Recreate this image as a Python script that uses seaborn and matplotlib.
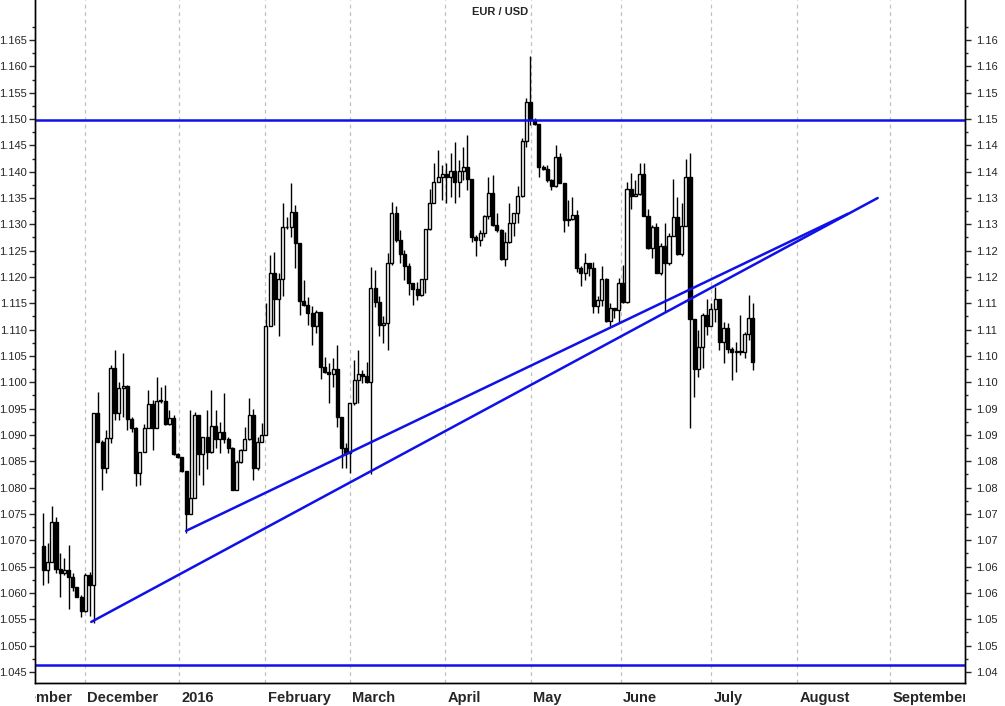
import math

import numpy as np
import matplotlib
matplotlib.use("Agg")
import matplotlib.pyplot as plt
from matplotlib.transforms import Bbox, TransformedBbox
import seaborn as sns

# daily EUR/USD candles, mid Nov 2015 .. mid Jul 2016
first_open = 1.0689
closes = [
    1.0643, 1.0659, 1.0735, 1.0645, 1.0637, 1.0643, 1.0630, 1.0612, 1.0593, 1.0566,
    1.0634, 1.0615, 1.0941, 1.0887, 1.0838, 1.0895, 1.1028, 1.0942, 1.0990, 1.0993,
    1.0931, 1.0914, 1.0827, 1.0868, 1.0914, 1.0958, 1.0913, 1.0965, 1.0964, 1.0921,
    1.0932, 1.0863, 1.0859, 1.0832, 1.0750, 1.0780, 1.0937, 1.0863, 1.0897, 1.0868,
    1.0917,
    1.0892, 1.0906, 1.0892, 1.0875, 1.0795, 1.0849, 1.0871, 1.0893, 1.0938, 1.0837,
    1.0887, 1.0900, 1.1106, 1.1208, 1.1159, 1.1197, 1.1294, 1.1295, 1.1324, 1.1264,
    1.1155, 1.1147, 1.1131, 1.1106, 1.1134, 1.1030, 1.1020, 1.1016, 1.1025, 1.0935,
    1.0875, 1.0865, 1.0960, 1.1004, 1.1015, 1.1012, 1.1000, 1.1180, 1.1153, 1.1108,
    1.1112, 1.1226, 1.1321, 1.1270,
    1.1244, 1.1221, 1.1188, 1.1177, 1.1166, 1.1197, 1.1292, 1.1340, 1.1381, 1.1390,
    1.1395, 1.1389, 1.1402, 1.1380, 1.1402, 1.1409, 1.1387, 1.1276, 1.1271, 1.1284,
    1.1315, 1.1359, 1.1299, 1.1290, 1.1235, 1.1267, 1.1302, 1.1322, 1.1354, 1.1459,
    1.1533, 1.1499, 1.1490, 1.1408, 1.1406, 1.1385, 1.1373, 1.1428, 1.1379, 1.1309,
    1.1311, 1.1317, 1.1218, 1.1207,
    1.1226, 1.1218, 1.1144, 1.1156, 1.1196, 1.1117, 1.1141, 1.1138, 1.1188, 1.1153,
    1.1368, 1.1354, 1.1357, 1.1396, 1.1316, 1.1255, 1.1294, 1.1208, 1.1259, 1.1227,
    1.1277, 1.1314, 1.1244, 1.1297, 1.1389, 1.1120, 1.1025, 1.1068, 1.1128, 1.1107,
    1.1139, 1.1158, 1.1077, 1.1103, 1.1063, 1.1057, 1.1060, 1.1058, 1.1092, 1.1122,
    1.1038,
]
highs = [
    1.0751, 1.0694, 1.0765, 1.0745, 1.0675, 1.0666, 1.0691, 1.0637, 1.0612, 1.0596,
    1.0637, 1.0640, 1.0941, 1.0982, 1.0890, 1.0909, 1.1033, 1.1061, 1.1001, 1.1055,
    1.0995, 1.0935, 1.0916, 1.0868, 1.0920, 1.0985, 1.0966, 1.1011, 1.0992, 1.0995,
    1.0947, 1.0938, 1.0865, 1.0859, 1.0830, 1.0947, 1.0944, 1.0925, 1.0897, 1.0947,
    1.0985,
    1.0947, 1.0925, 1.0979, 1.0897, 1.0878, 1.0852, 1.0874, 1.0916, 1.0970, 1.0950,
    1.0897, 1.0922, 1.1150, 1.1242, 1.1248, 1.1207, 1.1340, 1.1314, 1.1379, 1.1337,
    1.1253, 1.1194, 1.1162, 1.1144, 1.1137, 1.1131, 1.1049, 1.1036, 1.1046, 1.1071,
    1.0931, 1.0884, 1.0960, 1.1042, 1.1061, 1.1023, 1.1039, 1.1219, 1.1213, 1.1163,
    1.1125, 1.1245, 1.1343, 1.1334,
    1.1289, 1.1251, 1.1226, 1.1188, 1.1191, 1.1197, 1.1292, 1.1368, 1.1416, 1.1441,
    1.1413, 1.1416, 1.1435, 1.1457, 1.1422, 1.1447, 1.1470, 1.1387, 1.1280, 1.1289,
    1.1318, 1.1390, 1.1394, 1.1321, 1.1292, 1.1286, 1.1340, 1.1315, 1.1372, 1.1463,
    1.1539, 1.1620, 1.1501, 1.1489, 1.1413, 1.1413, 1.1387, 1.1450, 1.1435, 1.1378,
    1.1346, 1.1352, 1.1327, 1.1220,
    1.1245, 1.1226, 1.1229, 1.1163, 1.1220, 1.1198, 1.1150, 1.1141, 1.1198, 1.1223,
    1.1381, 1.1397, 1.1384, 1.1416, 1.1416, 1.1330, 1.1299, 1.1302, 1.1264, 1.1302,
    1.1283, 1.1387, 1.1352, 1.1340, 1.1425, 1.1435, 1.1087, 1.1099, 1.1131, 1.1159,
    1.1150, 1.1181, 1.1156, 1.1115, 1.1112, 1.1068, 1.1077, 1.1128, 1.1096, 1.1166,
    1.1150,
]
lows = [
    1.0615, 1.0618, 1.0659, 1.0637, 1.0593, 1.0634, 1.0569, 1.0603, 1.0593, 1.0555,
    1.0564, 1.0556, 1.0542, 1.0887, 1.0795, 1.0827, 1.0884, 1.0928, 1.0928, 1.0935,
    1.0909, 1.0906, 1.0803, 1.0805, 1.0868, 1.0913, 1.0871, 1.0914, 1.0960, 1.0919,
    1.0919, 1.0862, 1.0857, 1.0830, 1.0713, 1.0750, 1.0780, 1.0824, 1.0805, 1.0836,
    1.0866,
    1.0875, 1.0865, 1.0884, 1.0865, 1.0795, 1.0795, 1.0846, 1.0871, 1.0890, 1.0815,
    1.0833, 1.0887, 1.0900, 1.1106, 1.1109, 1.1087, 1.1164, 1.1292, 1.1276, 1.1217,
    1.1128, 1.1145, 1.1109, 1.1071, 1.1093, 1.1006, 1.1017, 1.0960, 1.0992, 1.0916,
    1.0837, 1.0837, 1.0827, 1.0957, 1.0960, 1.0998, 1.0998, 1.0826, 1.1143, 1.1087,
    1.1074, 1.1061, 1.1223, 1.1267,
    1.1226, 1.1194, 1.1166, 1.1147, 1.1156, 1.1163, 1.1169, 1.1289, 1.1340, 1.1381,
    1.1346, 1.1340, 1.1352, 1.1340, 1.1352, 1.1384, 1.1365, 1.1267, 1.1239, 1.1258,
    1.1276, 1.1311, 1.1296, 1.1286, 1.1232, 1.1220, 1.1264, 1.1277, 1.1302, 1.1352,
    1.1447, 1.1489, 1.1489, 1.1390, 1.1403, 1.1381, 1.1365, 1.1371, 1.1378, 1.1286,
    1.1296, 1.1308, 1.1210, 1.1182,
    1.1194, 1.1201, 1.1131, 1.1131, 1.1144, 1.1115, 1.1106, 1.1122, 1.1115, 1.1150,
    1.1150, 1.1330, 1.1356, 1.1356, 1.1315, 1.1254, 1.1236, 1.1207, 1.1204, 1.1134,
    1.1223, 1.1286, 1.1242, 1.1239, 1.1296, 1.0913, 1.0973, 1.1011, 1.1027, 1.1090,
    1.1106, 1.1115, 1.1061, 1.1036, 1.1055, 1.1004, 1.1020, 1.1052, 1.1046, 1.1081,
    1.1024,
]

# trend lines (day index, price) and horizontal levels
trend_a_x = [34.0, 191.6]
trend_a_y = [1.0718, 1.1320]
trend_b_x = [11.4, 198.7]
trend_b_y = [1.0545, 1.1350]
levels = [1.1499, 1.0463]

month_names = ["November", "December", "2016", "February", "March", "April",
               "May", "June", "July", "August", "September"]
month_pos = [-11.0, 9.9, 32.3, 52.8, 73.0, 95.6, 116.1, 137.5, 159.0, 179.5, 201.7]

yticks = [round(1.045 + 0.005 * i, 3) for i in range(25)]

sns.set_style("white")
plt.rcParams["font.family"] = ["Liberation Sans", "DejaVu Sans"]

fig = plt.figure(figsize=(10.05, 7.06), dpi=100)
ax = fig.add_axes([35 / 1005, 23 / 706, 930 / 1005, 683 / 706])

x = np.arange(len(closes))
opens = [first_open] + closes[:-1]
o = np.array(opens)
c = np.array(closes)
up = c >= o

ax.vlines(x, lows, highs, color="black", lw=1, zorder=2)
body = np.maximum(np.abs(c - o), 0.00015)
ax.bar(x[up], body[up], bottom=o[up], width=0.72, color="white",
       edgecolor="black", lw=1, zorder=3)
ax.bar(x[~up], body[~up], bottom=c[~up], width=0.72, color="black",
       edgecolor="black", lw=1, zorder=3)

sns.lineplot(x=trend_a_x, y=trend_a_y, ax=ax, color="#1010e8", lw=1.8, zorder=4)
sns.lineplot(x=trend_b_x, y=trend_b_y, ax=ax, color="#1010e8", lw=1.8, zorder=4)
for lv in levels:
    ax.axhline(lv, color="#1010e8", lw=1.8, zorder=4)

for p in month_pos:
    ax.axvline(p, color="#c0c0c0", lw=0.9, ls=(0, (3, 3)), zorder=1)

ax.set_xlim(-2, 219.5)
ax.set_ylim(1.0429, 1.1726)
ax.set_xticks([])
ax.set_yticks(yticks)
ax.set_yticklabels([f"{v:.3f}" for v in yticks], fontsize=8)
ax.set_yticks([v + 0.0025 for v in yticks], minor=True)
ax.tick_params(axis="y", which="major", length=4, width=1, direction="out",
               left=True, pad=2)
ax.tick_params(axis="y", which="minor", length=2, width=1, direction="out", left=True)

ax2 = ax.twinx()
ax2.set_ylim(ax.get_ylim())
ax2.set_yticks(yticks)
ax2.set_yticklabels([f"{math.floor(v * 100 + 1e-6) / 100:.2f}" for v in yticks],
                    fontsize=8)
ax2.set_yticks([v + 0.0025 for v in yticks], minor=True)
ax2.tick_params(axis="y", which="major", length=4, width=1, direction="out",
                right=True, pad=4)
ax2.tick_params(axis="y", which="minor", length=2, width=1, direction="out", right=True)

for a in (ax, ax2):
    for side in ("left", "right", "bottom"):
        a.spines[side].set_color("black")
        a.spines[side].set_linewidth(1)
    a.spines["top"].set_visible(False)

clip = TransformedBbox(Bbox([[0, -0.1], [1, 0]]), ax.transAxes)
for name, p in zip(month_names, month_pos):
    t = ax.text(p + 0.6, -0.011, name, transform=ax.get_xaxis_transform(),
                ha="left", va="top", fontsize=10.5, fontweight="bold")
    t.set_clip_box(clip)
    t.set_clip_on(True)

ax.text(0.5, 0.99, "EUR / USD", transform=ax.transAxes, ha="center", va="top",
        fontsize=8, fontweight="bold")

fig.savefig("out.png", dpi=100)
